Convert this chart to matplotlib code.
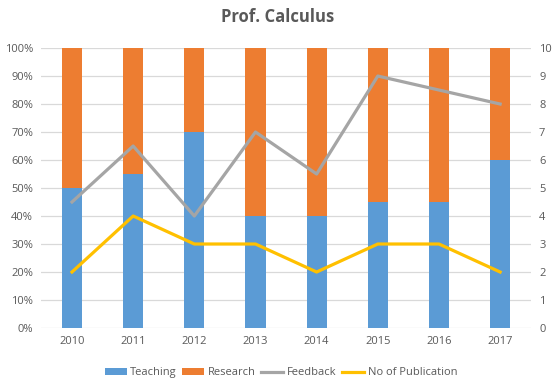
import matplotlib
matplotlib.use("Agg")
from matplotlib import pyplot as plt
import numpy as np

plt.rcParams['font.family'] = ['Open Sans', 'DejaVu Sans']

years = ['2010', '2011', '2012', '2013', '2014', '2015', '2016', '2017']
teaching = [50, 55, 70, 40, 40, 45, 45, 60]
research = [50, 45, 30, 60, 60, 55, 55, 40]
feedback = [4.5, 6.5, 4.0, 7.0, 5.5, 9.0, 8.5, 8.0]
publications = [2, 4, 3, 3, 2, 3, 3, 2]

blue = '#5B9BD5'
orange = '#ED7D31'
gray = '#A5A5A5'
yellow = '#FFC000'
text_col = '#595959'

fig = plt.figure(figsize=(5.56, 3.83), dpi=100)
ax = fig.add_axes([0.0745, 0.1436, 0.880, 0.731])

x = np.arange(len(years))
b1 = ax.bar(x, teaching, width=0.33, color=blue, label='Teaching', zorder=2)
b2 = ax.bar(x, research, width=0.33, bottom=teaching, color=orange, label='Research', zorder=2)

ax.set_xlim(-0.5, len(years) - 0.5)
ax.set_ylim(0, 100)
ax.set_yticks(range(0, 101, 10))
ax.set_yticklabels(['%d%%' % v for v in range(0, 101, 10)])
ax.set_xticks(x)
ax.set_xticklabels(years)
ax.yaxis.grid(True, color='#D9D9D9', linewidth=0.9, zorder=0)
ax.set_axisbelow(True)
for s in ax.spines.values():
    s.set_visible(False)
ax.tick_params(length=0, labelsize=8, colors=text_col, pad=6)

ax2 = ax.twinx()
l1, = ax2.plot(x, feedback, color=gray, linewidth=2.3, label='Feedback', zorder=3)
l2, = ax2.plot(x, publications, color=yellow, linewidth=2.3, label='No of Publication', zorder=3)
ax2.set_ylim(0, 10)
ax2.set_yticks(range(0, 11))
for s in ax2.spines.values():
    s.set_visible(False)
ax2.tick_params(length=0, labelsize=8, colors=text_col, pad=6)

fig.suptitle('Prof. Calculus', x=0.5, y=0.978, fontsize=12, fontweight='bold', color=text_col)

fig.legend([b1, b2, l1, l2], ['Teaching', 'Research', 'Feedback', 'No of Publication'],
           loc='center', bbox_to_anchor=(0.505, 0.027), ncol=4, frameon=False,
           fontsize=8, handlelength=2.0, handleheight=0.55, columnspacing=0.5,
           handletextpad=0.3, labelcolor=text_col)

fig.savefig('out.png', dpi=100)
